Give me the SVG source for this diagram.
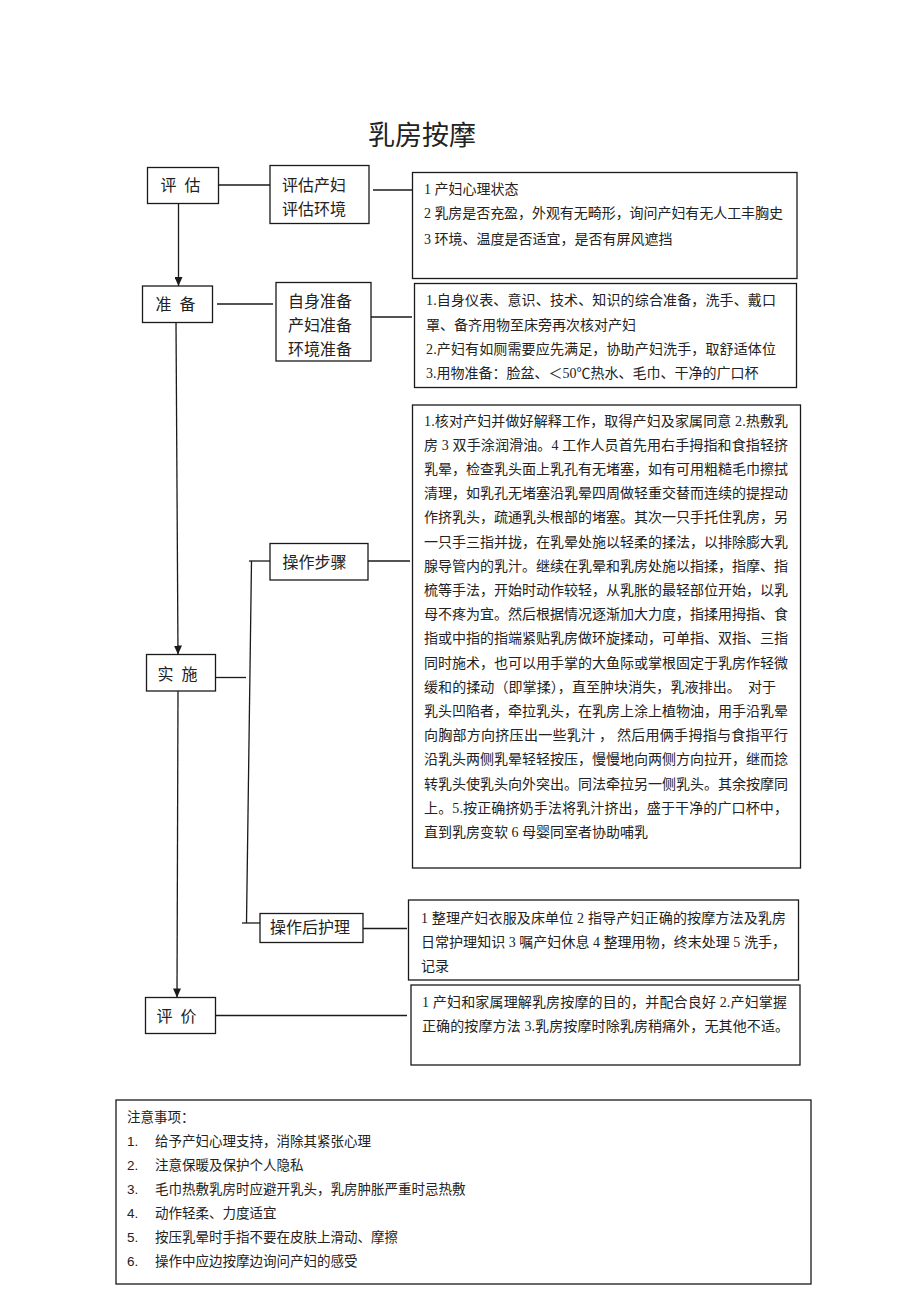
<svg xmlns="http://www.w3.org/2000/svg" width="920" height="1302" viewBox="0 0 920 1302">
<style>
.bx{fill:#fff;stroke:#1a1a1a;stroke-width:1.3}
.ln{stroke:#1a1a1a;stroke-width:1.3;fill:none}
.t{font-family:"Liberation Serif","Noto Sans CJK SC",serif;font-size:14px;fill:#222;dominant-baseline:central}
.n{font-family:"Liberation Serif","Noto Sans CJK SC",serif;font-size:16px;fill:#222;dominant-baseline:central}
.m{text-anchor:middle}
.s{font-family:"Liberation Sans","Noto Sans CJK SC",sans-serif;font-size:13.5px;fill:#222;dominant-baseline:central}
</style>
<defs>
<marker id="ah" markerUnits="userSpaceOnUse" markerWidth="10" markerHeight="8" refX="9" refY="4" orient="auto">
<path d="M0,0 L9,4 L0,8 Z" fill="#1a1a1a"/>
</marker>
</defs>
<rect width="920" height="1302" fill="#fff"/>
<text x="422" y="136" class="m" style="font-family:'Liberation Serif','Noto Sans CJK SC',serif;font-size:27px;fill:#222;dominant-baseline:central">乳房按摩</text>

<g id="connectors">
<line class="ln" x1="178.5" y1="203.5" x2="178.5" y2="286" marker-end="url(#ah)"/>
<line class="ln" x1="176" y1="322.5" x2="178" y2="654.5" marker-end="url(#ah)"/>
<line class="ln" x1="178" y1="691" x2="177" y2="997.5" marker-end="url(#ah)"/>
<line class="ln" x1="218.5" y1="185" x2="270" y2="185"/>
<line class="ln" x1="373" y1="190" x2="412.5" y2="190"/>
<line class="ln" x1="217" y1="304" x2="273" y2="304"/>
<line class="ln" x1="371" y1="317" x2="412" y2="317"/>
<line class="ln" x1="215.5" y1="677.5" x2="246" y2="677.5"/>
<line class="ln" x1="251.5" y1="561" x2="246.5" y2="923"/>
<line class="ln" x1="249" y1="561" x2="272" y2="561"/>
<line class="ln" x1="242" y1="923" x2="260" y2="923"/>
<line class="ln" x1="368" y1="561" x2="410" y2="561"/>
<line class="ln" x1="363" y1="928.5" x2="407" y2="928.5"/>
<line class="ln" x1="215.5" y1="1015.5" x2="407" y2="1015.5"/>
</g>

<g id="n-pinggu">
<rect class="bx" x="147.5" y="167.5" width="71" height="36"/>
<text class="n m" x="180.5" y="185.5" textLength="40">评 估</text>
</g>
<g id="n-pinggu-items">
<rect class="bx" x="270" y="165.5" width="99" height="58"/>
<text class="n" x="282" y="185">评估产妇</text>
<text class="n" x="282" y="209">评估环境</text>
</g>
<g id="n-pinggu-detail">
<rect class="bx" x="412.5" y="172.5" width="384.5" height="106"/>
<text class="t" x="424" y="189">1 产妇心理状态</text>
<text class="t" x="424" y="213" textLength="359">2 乳房是否充盈，外观有无畸形，询问产妇有无人工丰胸史</text>
<text class="t" x="424" y="239">3 环境、温度是否适宜，是否有屏风遮挡</text>
</g>

<g id="n-zhunbei">
<rect class="bx" x="142.5" y="286" width="70" height="36.5"/>
<text class="n m" x="175.5" y="304" textLength="40">准 备</text>
</g>
<g id="n-zhunbei-items">
<rect class="bx" x="276" y="282.5" width="95" height="78.5"/>
<text class="n" x="288" y="301">自身准备</text>
<text class="n" x="288" y="325">产妇准备</text>
<text class="n" x="288" y="349">环境准备</text>
</g>
<g id="n-zhunbei-detail">
<rect class="bx" x="414.5" y="283.5" width="382" height="104"/>
<text class="t" x="426" y="300" textLength="350">1.自身仪表、意识、技术、知识的综合准备，洗手、戴口</text>
<text class="t" x="426" y="325">罩、备齐用物至床旁再次核对产妇</text>
<text class="t" x="426" y="349" textLength="350">2.产妇有如厕需要应先满足，协助产妇洗手，取舒适体位</text>
<text class="t" x="426" y="373">3.用物准备：脸盆、＜50℃热水、毛巾、干净的广口杯</text>
</g>

<g id="n-shishi">
<rect class="bx" x="146.5" y="654.5" width="69" height="36.5"/>
<text class="n m" x="177.5" y="674" textLength="40">实 施</text>
</g>
<g id="n-caozuo">
<rect class="bx" x="270" y="543.5" width="98" height="36.5"/>
<text class="n m" x="314.5" y="562">操作步骤</text>
</g>
<g id="n-caozuo-detail">
<rect class="bx" x="412.5" y="405" width="388" height="463"/>
<text class="t" x="424" y="421" textLength="364">1.核对产妇并做好解释工作，取得产妇及家属同意 2.热敷乳</text>
<text class="t" x="424" y="445.2" textLength="364">房 3 双手涂润滑油。4 工作人员首先用右手拇指和食指轻挤</text>
<text class="t" x="424" y="469.4" textLength="364">乳晕，检查乳头面上乳孔有无堵塞，如有可用粗糙毛巾擦拭</text>
<text class="t" x="424" y="493.6" textLength="364">清理，如乳孔无堵塞沿乳晕四周做轻重交替而连续的提捏动</text>
<text class="t" x="424" y="517.8" textLength="364">作挤乳头，疏通乳头根部的堵塞。其次一只手托住乳房，另</text>
<text class="t" x="424" y="542" textLength="364">一只手三指并拢，在乳晕处施以轻柔的揉法，以排除膨大乳</text>
<text class="t" x="424" y="566.2" textLength="364">腺导管内的乳汁。继续在乳晕和乳房处施以指揉，指摩、指</text>
<text class="t" x="424" y="590.4" textLength="364">梳等手法，开始时动作较轻，从乳胀的最轻部位开始，以乳</text>
<text class="t" x="424" y="614.6" textLength="364">母不疼为宜。然后根据情况逐渐加大力度，指揉用拇指、食</text>
<text class="t" x="424" y="638.8" textLength="364">指或中指的指端紧贴乳房做环旋揉动，可单指、双指、三指</text>
<text class="t" x="424" y="663" textLength="364">同时施术，也可以用手掌的大鱼际或掌根固定于乳房作轻微</text>
<text class="t" x="424" y="687.2" textLength="352">缓和的揉动（即掌揉），直至肿块消失，乳液排出。　对于</text>
<text class="t" x="424" y="711.4" textLength="364">乳头凹陷者，牵拉乳头，在乳房上涂上植物油，用手沿乳晕</text>
<text class="t" x="424" y="735.6" textLength="364">向胸部方向挤压出一些乳汁 ， 然后用俩手拇指与食指平行</text>
<text class="t" x="424" y="759.8" textLength="364">沿乳头两侧乳晕轻轻按压，慢慢地向两侧方向拉开，继而捻</text>
<text class="t" x="424" y="784" textLength="364">转乳头使乳头向外突出。同法牵拉另一侧乳头。其余按摩同</text>
<text class="t" x="424" y="808.2" textLength="364">上。5.按正确挤奶手法将乳汁挤出，盛于干净的广口杯中，</text>
<text class="t" x="424" y="832.4">直到乳房变软 6 母婴同室者协助哺乳</text>
</g>
<g id="n-houhuli">
<rect class="bx" x="260" y="913.5" width="103" height="29"/>
<text class="n m" x="310" y="927">操作后护理</text>
</g>
<g id="n-houhuli-detail">
<rect class="bx" x="408.5" y="900" width="390" height="80"/>
<text class="t" x="421" y="918" textLength="365">1 整理产妇衣服及床单位 2 指导产妇正确的按摩方法及乳房</text>
<text class="t" x="421" y="942" textLength="365">日常护理知识 3 嘱产妇休息 4 整理用物，终末处理 5 洗手，</text>
<text class="t" x="421" y="966">记录</text>
</g>

<g id="n-pingjia">
<rect class="bx" x="145.5" y="997.5" width="70" height="36"/>
<text class="n m" x="176.5" y="1016" textLength="40">评 价</text>
</g>
<g id="n-pingjia-detail">
<rect class="bx" x="411" y="985" width="389" height="80"/>
<text class="t" x="422" y="1002" textLength="365">1 产妇和家属理解乳房按摩的目的，并配合良好 2.产妇掌握</text>
<text class="t" x="422" y="1026" textLength="367">正确的按摩方法 3.乳房按摩时除乳房稍痛外，无其他不适。</text>
</g>

<g id="n-notes">
<rect class="bx" x="116" y="1100" width="695" height="184"/>
<text class="s" x="127" y="1117">注意事项：</text>
<text class="s" x="127" y="1141">1.</text><text class="s" x="155" y="1141">给予产妇心理支持，消除其紧张心理</text>
<text class="s" x="127" y="1165">2.</text><text class="s" x="155" y="1165">注意保暖及保护个人隐私</text>
<text class="s" x="127" y="1189">3.</text><text class="s" x="155" y="1189">毛巾热敷乳房时应避开乳头，乳房肿胀严重时忌热敷</text>
<text class="s" x="127" y="1213">4.</text><text class="s" x="155" y="1213">动作轻柔、力度适宜</text>
<text class="s" x="127" y="1237">5.</text><text class="s" x="155" y="1237">按压乳晕时手指不要在皮肤上滑动、摩擦</text>
<text class="s" x="127" y="1261">6.</text><text class="s" x="155" y="1261">操作中应边按摩边询问产妇的感受</text>
</g>
</svg>
